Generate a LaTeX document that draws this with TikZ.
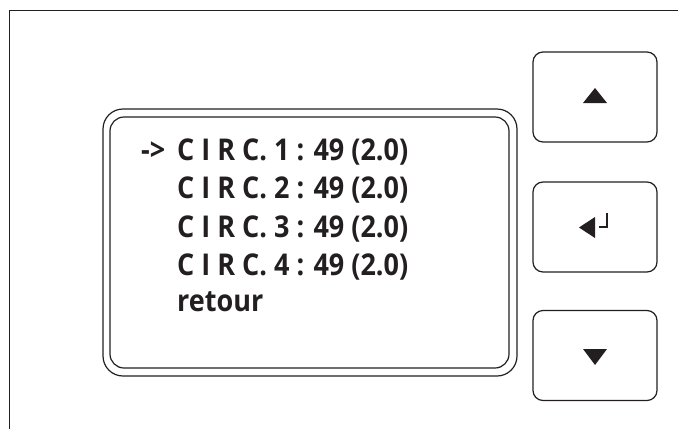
\documentclass[tikz,border=0pt]{standalone}
\usepackage{fontspec}
\newfontfamily\lcdfont{Open Sans}[FakeStretch=0.9]
\definecolor{ink}{HTML}{231F20}
\tikzset{
  frameline/.style={draw=ink, line width=1.2pt},
  boxline/.style={draw=ink, line width=1.2pt},
  btn/.style={draw=ink, line width=1.2pt, rounded corners=10pt, minimum width=124pt, minimum height=90pt, inner sep=0pt},
  lcdtext/.style={anchor=base west, inner sep=0pt, text=ink, font=\lcdfont\bfseries\fontsize{30}{36}\selectfont},
  glyph/.style={fill=ink, draw=none}
}
\begin{document}
\begin{tikzpicture}[x=1pt,y=-1pt]
\useasboundingbox (0,0) rectangle (678,429);
% outer frame
\coordinate (fb) at (9.5,429);
\coordinate (fc) at (9.5,10.7);
\coordinate (fr) at (678,10.7);
\draw[frameline] (fb) -- (fc) -- (fr);
% screen
\node[boxline, rounded corners=20pt, minimum width=414pt, minimum height=267pt, inner sep=0pt] (scrout) at (310,242.5) {};
\node[boxline, rounded corners=14pt, minimum width=399pt, minimum height=251pt, inner sep=0pt] (scrin) at (309.5,242.5) {};
% text
\node[lcdtext] (arrow) at (141,160) {->};
\node[lcdtext] (c1) at (177,160) {C I R C. 1 : 49 (2.0)};
\node[lcdtext] (c2) at (177,198.5) {C I R C. 2 : 49 (2.0)};
\node[lcdtext] (c3) at (177,237) {C I R C. 3 : 49 (2.0)};
\node[lcdtext] (c4) at (177,275) {C I R C. 4 : 49 (2.0)};
\node[lcdtext] (ret) at (177,311) {retour};
% buttons
\node[btn] (up) at (595,97) {};
\node[btn] (enter) at (595,227) {};
\node[btn] (down) at (595,355.5) {};
% glyphs
\fill[glyph] (583,103) -- (607,103) -- (595,88) -- cycle;
\fill[glyph] (583,349) -- (607,349) -- (595,365) -- cycle;
\fill[glyph] (579,227.5) -- (595,217) -- (595,238) -- cycle;
\draw[ink, line width=2pt] (599,227) -- (607,227) -- (607,213);
\end{tikzpicture}
\end{document}
